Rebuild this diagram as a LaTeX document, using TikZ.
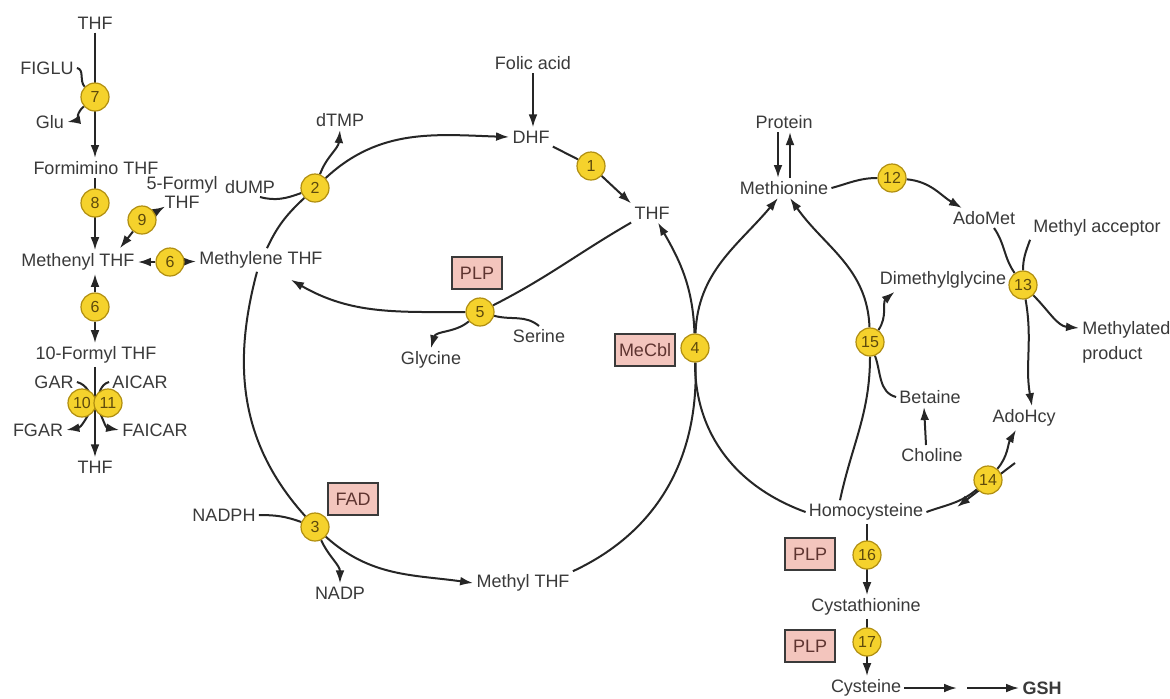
\documentclass[tikz,border=0pt]{standalone}
\usepackage{fontspec}
\setmainfont{Liberation Sans}
\usepackage{tikz}
\usetikzlibrary{arrows.meta,positioning,calc}
\definecolor{ink}{HTML}{3A3A3A}
\definecolor{wire}{HTML}{262626}
\definecolor{enzfill}{HTML}{F5D22C}
\definecolor{enzline}{HTML}{B08E10}
\definecolor{enztext}{HTML}{5E4A0C}
\definecolor{coffill}{HTML}{F3C5BD}
\definecolor{coftext}{HTML}{5E3430}
\pgfdeclarelayer{bg}
\pgfsetlayers{bg,main}

\begin{document}
\begin{tikzpicture}[x=0.5pt, y=-0.5pt, >={Latex[length=6.5pt,width=4.4pt]},
  every node/.style={font=\fontsize{9}{10}\selectfont, text=ink, inner sep=1.5pt},
  enz/.style={circle, draw=enzline, line width=0.6pt, fill=enzfill, minimum size=14pt, inner sep=0pt, font=\fontsize{8}{8}\selectfont, text=enztext},
  cof/.style={draw=ink, line width=0.7pt, fill=coffill, minimum width=25pt, minimum height=16pt, inner sep=2pt, text=coftext},
  rxn/.style={draw=wire, line width=1pt}]
\useasboundingbox (0,0) rectangle (1170,698);
% left column
\node (thfA) at (95,23) {THF};
\node (figlu) at (47,68) {FIGLU};
\node[enz] (e7) at (95,97) {7};
\node (glu) at (50,122) {Glu};
\node (fthf) at (96,168) {Formimino THF};
\node[enz] (e8) at (95,203) {8};
\node[align=center, font=\fontsize{9}{9.5}\selectfont] (fmyl) at (182,192) {5-Formyl\\THF};
\node[enz] (e9) at (142,220) {9};
\node (menyl) at (78,262) {Methenyl THF};
\node[enz] (e6a) at (170,262) {6};
\node (mlene) at (261,260) {Methylene THF};
\node[enz] (e6b) at (95,307) {6};
\node (f10) at (96,355) {10-Formyl THF};
\node (gar) at (54,382) {GAR};
\node (aicar) at (140,382) {AICAR};
\node[enz] (e10) at (82,403) {10};
\node[enz] (e11) at (108,403) {11};
\node (fgar) at (38,430) {FGAR};
\node (faicar) at (155,430) {FAICAR};
\node (thfB) at (95,467) {THF};
% folate cycle
\node (dtmp) at (340,120) {dTMP};
\node (dump) at (250,187) {dUMP};
\node[enz] (e2) at (315,188) {2};
\node (folic) at (533,63) {Folic acid};
\node (dhf) at (531,137) {DHF};
\node[enz] (e1) at (591,166) {1};
\node (thfC) at (652,213) {THF};
\node[cof] (plpA) at (477,273) {PLP};
\node[enz] (e5) at (480,312) {5};
\node (serine) at (539,336) {Serine};
\node (glycine) at (431,360) {Glycine};
\node[cof] (mecbl) at (645,350) {MeCbl};
\node[enz] (e4) at (695,348) {4};
\node[cof] (fad) at (353,499) {FAD};
\node (nadph) at (224,515) {NADPH};
\node[enz] (e3) at (315,527) {3};
\node (nadp) at (340,593) {NADP};
\node (mthf) at (523,583) {Methyl THF};
% methionine cycle
\node (protein) at (784,122) {Protein};
\node (met) at (784,188) {Methionine};
\node[enz] (e12) at (892,178) {12};
\node (adomet) at (984,218) {AdoMet};
\node (macc) at (1097,228) {Methyl acceptor};
\node (dmg) at (943,280) {Dimethylglycine};
\node[enz] (e13) at (1023,285) {13};
\node[anchor=north west, align=left, font=\fontsize{9}{12.5}\selectfont] (mprod) at (1079,318) {Methylated\\product};
\node[enz] (e15) at (870,342) {15};
\node (betaine) at (930,397) {Betaine};
\node (choline) at (932,455) {Choline};
\node (adohcy) at (1024,418) {AdoHcy};
\node[enz] (e14) at (988,480) {14};
\node (hcy) at (866,512) {Homocysteine};
\node[cof] (plpB) at (810,554) {PLP};
\node[enz] (e16) at (867,555) {16};
\node (cysta) at (866,607) {Cystathionine};
\node[cof] (plpC) at (810,646) {PLP};
\node[enz] (e17) at (867,642) {17};
\node (cys) at (866,688) {Cysteine};
\coordinate (gapC) at (962,688);
\node[font=\fontsize{9}{10}\selectfont\bfseries] (gsh) at (1042,688) {GSH};

\begin{pgfonlayer}{bg}
\fill[white] (0,0) rectangle (1170,698);
\draw[rxn,->] (thfA) -- (thfA |- fthf.north);
\draw[rxn] (figlu.east) to[out=-10,in=135] (e7);
\draw[rxn,->] (e7) to[out=-140,in=10] (glu.east);
\draw[rxn,->] (fthf.south -| e8) -- (e8 |- menyl.north);
\draw[rxn,->] (e9) -- ($(fmyl.south west)+(22,-5)$);
\draw[rxn,->] (e9) -- ($(menyl.north east)+(-18,-2)$);
\draw[rxn,->] (e6a) -- (menyl);
\draw[rxn,->] (e6a) -- (mlene);
\draw[rxn,->] (e6b) -- (e6b |- menyl.south);
\draw[rxn,->] (e6b) -- (e6b |- f10.north);
\coordinate (j1011) at ($(e10)!0.5!(e11)$);
\draw[rxn] (gar.east) to[out=-15,in=120] (j1011);
\draw[rxn] (aicar.west) to[out=-165,in=60] (j1011);
\draw[rxn,->] (j1011) to[out=-120,in=10] (fgar.east);
\draw[rxn,->] (j1011) to[out=-60,in=170] (faicar.west);
\draw[rxn,->] (f10.south -| thfB) -- (thfB);

\draw[rxn] ([xshift=3pt]mlene.north) to[out=65,in=-137] (e2);
\draw[rxn,->] (e2) to[out=43,in=178] (dhf.west);
\draw[rxn,->] (e2) to[out=70,in=-95] (dtmp.south);
\draw[rxn] ([xshift=5pt]dump.south) to[out=-15,in=-160] (e2);
\draw[rxn,->] (folic.south) -- (folic.south |- dhf.north);
\draw[rxn] (dhf.south east) -- (e1);
\draw[rxn,->] (e1) -- (thfC.north west);
\draw[rxn] (thfC.south west) to[out=-150,in=27] (e5);
\draw[rxn,->] (e5) to[out=180,in=-30] ($(mlene.south)+(30,8)$);
\draw[rxn,->] (e5) to[out=-140,in=75] (glycine.north);
\draw[rxn] (serine.north) to[out=140,in=-15] (e5);
\draw[rxn] ([xshift=-2pt]mlene.south) to[out=-105,in=132] (e3);
\draw[rxn,->] (e3) to[out=-42,in=172] (mthf.west);
\draw[rxn] (nadph.east) to[out=0,in=160] (e3);
\draw[rxn,->] (e3) to[out=-65,in=90] (nadp.north);
\draw[rxn] (mthf.north east) to[out=25,in=-88] (e4);
\draw[rxn,->] (e4) to[out=92,in=-60] ([xshift=3pt]thfC.south);

\draw[rxn] (hcy.west) to[out=160,in=-90] (e4);
\draw[rxn,->] (e4) to[out=88,in=-130] ([xshift=-3pt]met.south);
\draw[rxn] ([xshift=-13pt]hcy.north) to[out=78,in=-90] (e15);
\draw[rxn,->] (e15) to[out=92,in=-55] ([xshift=3pt]met.south);
\draw[rxn] (betaine.west) to[out=165,in=-70] (e15);
\draw[rxn,->] (e15) to[out=55,in=-140] ($(dmg.south west)+(18,0)$);
\draw[rxn,->] ([xshift=-3pt]choline.north) -- ([xshift=-3pt]betaine.south);
\draw[rxn,->] ([xshift=-3pt]protein.south) -- ([xshift=-3pt]met.north);
\draw[rxn,->] ([xshift=3pt]met.north) -- ([xshift=3pt]protein.south);
\draw[rxn] (met.east) to[out=15,in=180] (e12);
\draw[rxn,->] (e12) to[out=-5,in=150] ([xshift=-11pt]adomet.north);
\draw[rxn] ([xshift=5pt]adomet.south) to[out=-55,in=125] (e13);
\draw[rxn] (macc.south west) to[out=-110,in=90] (e13);
\draw[rxn,->] (e13) to[out=-45,in=175] ($(mprod.north west)+(0,10)$);
\draw[rxn,->] (e13) to[out=-80,in=100] ([xshift=4pt]adohcy.north);
\draw[rxn] (hcy.east) to[out=20,in=-140] (e14);
\draw[rxn,->] (e14) to[out=50,in=-120] ([xshift=-4pt]adohcy.south);
\coordinate (h14a) at ($(e14)+(27,-17)$);
\coordinate (h14b) at ($(e14)+(-31,27)$);
\draw[rxn,->] (h14a) -- (h14b);
\draw[rxn,->] (hcy.south -| e16) -- (e16 |- cysta.north);
\draw[rxn,->] (cysta.south -| e17) -- (e17 |- cys.north);
\draw[rxn,->] (cys.east) -- ([xshift=-2.5pt]gapC);
\draw[rxn,->] ([xshift=2.5pt]gapC) -- (gsh.west);
\end{pgfonlayer}
\end{tikzpicture}
\end{document}
